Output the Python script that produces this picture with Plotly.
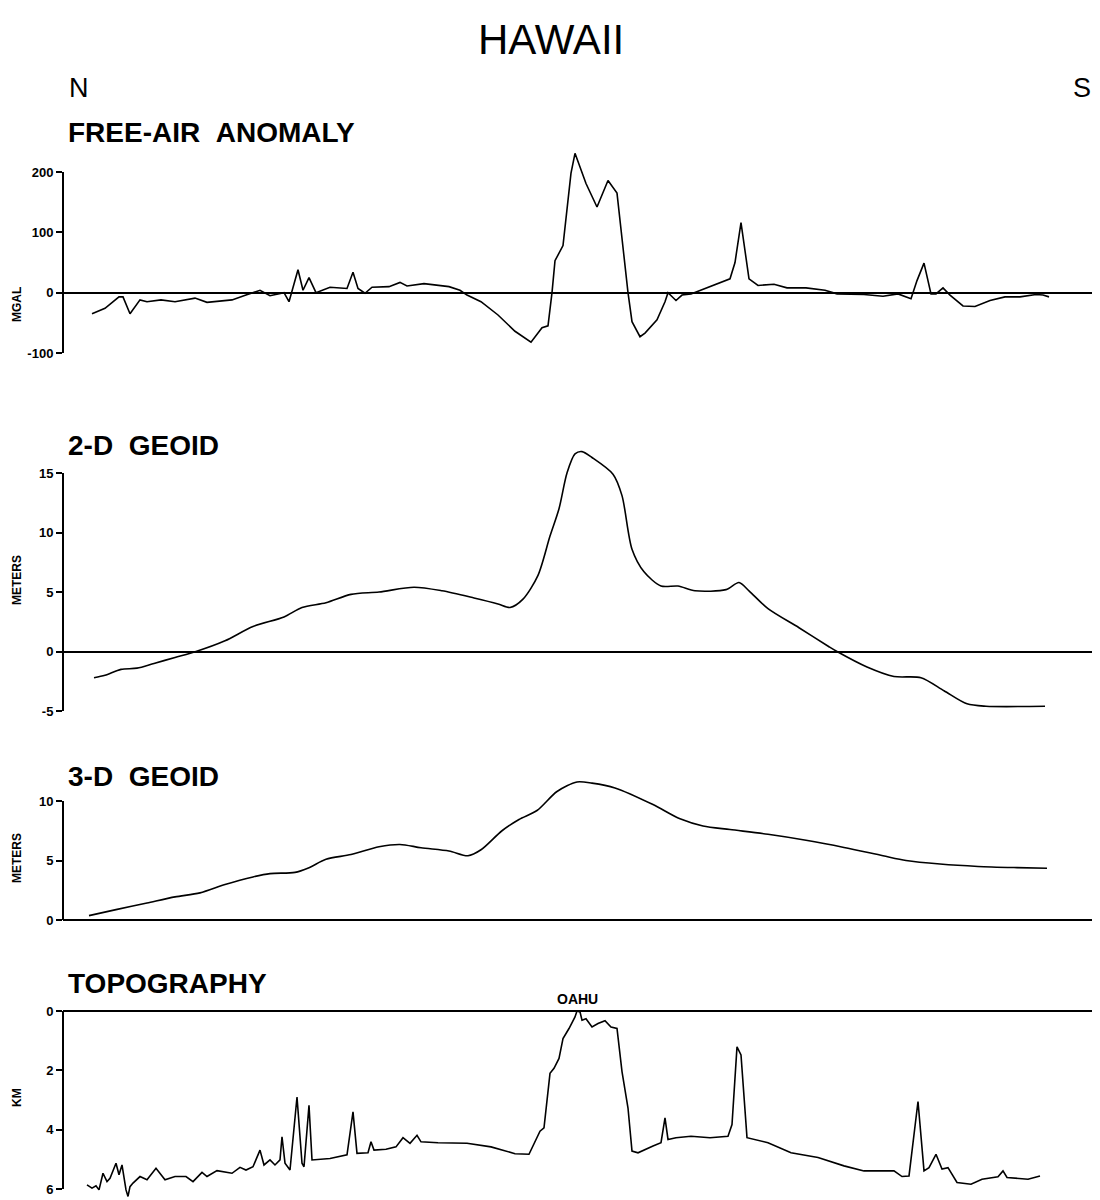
import plotly.graph_objects as go

# ---------------- data (distance along profile, N -> S, arbitrary units) ----------------
fa_dist = [29, 42, 56, 60, 67, 77, 84, 98, 112, 132, 144, 169, 183, 197, 207, 221, 226, 235, 240, 246,
           253, 267, 284, 290, 295, 302, 309, 326, 337, 344, 361, 386, 397, 404, 418, 435, 452, 468, 479, 485,
           489, 492, 500, 508, 512, 523, 534, 545, 554, 559, 565, 569, 577, 582, 594, 602, 605, 613, 619, 628,
           636, 647, 667, 672, 678, 686, 695, 711, 724, 743, 762, 774, 801, 820, 835, 848, 854, 861, 868, 873,
           880, 887, 900, 912, 927, 942, 957, 973, 980, 986]
fa_mgal = [-35, -26, -7, -7, -35, -12, -15, -12, -15, -9, -16, -12, -4, 4, -5, 0, -15, 38, 4, 25,
           0, 9, 7, 34, 7, -1, 9, 10, 17, 11, 15, 10, 4, -4, -15, -37, -64, -82, -58, -55,
           0, 53, 78, 198, 231, 181, 142, 186, 165, 89, 0, -48, -73, -67, -45, -15, 0, -13, -4, -2,
           3, 11, 23, 50, 116, 23, 12, 14, 8, 8, 4, -2, -3, -6, -2, -10, 20, 49, -2, -2,
           8, -4, -22, -23, -13, -7, -7, -3, -4, -7]

g2_dist = [31, 42, 58, 74, 91, 112, 133, 162, 190, 221, 239, 263, 288, 316, 351, 379, 411, 435, 447, 460,
           475, 487, 496, 504, 512, 519, 529, 550, 559, 569, 581, 598, 615, 632, 663, 676, 686, 705, 736, 766,
           774, 804, 831, 858, 881, 904, 923, 982]
g2_m = [-2.2, -2.0, -1.5, -1.4, -1.0, -0.5, 0.0, 0.9, 2.1, 2.9, 3.7, 4.1, 4.8, 5.0, 5.4, 5.1, 4.5, 4.0, 3.7, 4.4,
        6.4, 9.7, 12.0, 15.0, 16.6, 16.8, 16.3, 14.9, 13.1, 8.6, 6.7, 5.5, 5.5, 5.1, 5.2, 5.8, 5.1, 3.6, 2.0, 0.4,
        0.0, -1.3, -2.1, -2.2, -3.3, -4.4, -4.6, -4.6]

g3_dist = [26, 53, 84, 112, 137, 162, 190, 207, 232, 246, 263, 288, 316, 337, 358, 386, 405, 418, 439, 456,
           474, 494, 514, 529, 552, 590, 617, 640, 667, 705, 743, 781, 820, 843, 877, 915, 954, 984]
g3_m = [0.37, 0.87, 1.43, 1.94, 2.28, 2.98, 3.62, 3.9, 4.0, 4.4, 5.1, 5.5, 6.15, 6.35, 6.07, 5.8, 5.4, 5.9, 7.5, 8.45,
        9.2, 10.8, 11.6, 11.5, 11.1, 9.7, 8.5, 7.9, 7.6, 7.2, 6.7, 6.1, 5.4, 5.0, 4.7, 4.5, 4.4, 4.35]

topo_dist = [24, 29, 33, 36, 40, 44, 47, 53, 56, 59, 63, 65, 67, 70, 77, 84, 93, 102, 112, 123,
             130, 139, 144, 154, 169, 177, 183, 190, 197, 201, 207, 212, 217, 219, 222, 227, 234, 239, 241, 246,
             249, 267, 284, 290, 294, 305, 308, 311, 323, 333, 340, 347, 354, 358, 375, 404, 428, 437, 452, 466,
             471, 477, 481, 487, 491, 496, 500, 506, 512, 514, 517, 519, 523, 529, 535, 542, 548, 554, 559, 565,
             569, 575, 590, 598, 602, 605, 613, 628, 647, 665, 669, 674, 678, 684, 705, 728, 755, 781, 801, 831,
             839, 846, 855, 861, 866, 873, 879, 885, 894, 908, 919, 935, 940, 944, 965, 977]
topo_km = [5.86, 5.97, 5.89, 6.03, 5.47, 5.75, 5.64, 5.13, 5.52, 5.19, 6.03, 6.25, 5.92, 5.80, 5.58, 5.69, 5.30, 5.69, 5.58, 5.58,
           5.75, 5.44, 5.58, 5.38, 5.47, 5.27, 5.36, 5.25, 4.69, 5.19, 5.02, 5.19, 5.02, 4.24, 5.13, 5.36, 2.90, 5.13, 5.25, 3.18,
           5.02, 4.97, 4.85, 3.40, 4.80, 4.78, 4.41, 4.69, 4.66, 4.58, 4.27, 4.46, 4.19, 4.41, 4.44, 4.46, 4.58, 4.67, 4.81, 4.83,
           4.50, 4.05, 3.94, 2.10, 1.93, 1.60, 0.93, 0.59, 0.20, 0.00, 0.03, 0.31, 0.26, 0.54, 0.42, 0.33, 0.54, 0.59, 2.04, 3.27,
           4.72, 4.78, 4.55, 4.44, 3.60, 4.33, 4.27, 4.22, 4.27, 4.22, 3.83, 1.21, 1.48, 4.27, 4.44, 4.78, 4.94, 5.22, 5.39, 5.39,
           5.58, 5.56, 3.05, 5.39, 5.28, 4.83, 5.33, 5.28, 5.78, 5.84, 5.67, 5.59, 5.39, 5.61, 5.67, 5.56]

fa_ticks = [-100, 0, 100, 200]
g2_ticks = [-5, 0, 5, 10, 15]
g3_ticks = [0, 5, 10]
topo_ticks = [0, 2, 4, 6]

assert len(fa_dist) == len(fa_mgal)
assert len(g2_dist) == len(g2_m)
assert len(g3_dist) == len(g3_m)
assert len(topo_dist) == len(topo_km)

# ---------------- layout helpers ----------------
OFF = 8                      # default page body margin
W, H = 1100 - OFF, 1200 - OFF
X0_PX, X1_PX = 63, 1097
FONT = "Liberation Sans, Arial, sans-serif"


def pxx(x):
    return (x - OFF) / W


def pxy(y):
    return 1 - (y - OFF) / H


def domain_for(va, ya, vb, yb, r0, r1):
    """pixel rows of two ticks -> paper domain covering range [r0, r1]"""
    def px(v):
        return ya + (v - va) * (yb - ya) / (vb - va)
    p0, p1 = px(r0), px(r1)
    top, bot = min(p0, p1), max(p0, p1)
    return [pxy(bot), pxy(top)]


panels = [
    # (dist, vals, ticks, tick_a, tick_b, range, reversed, spline)
    (fa_dist, fa_mgal, fa_ticks, (200, 172), (-100, 353), [-100, 240], False, False),
    (g2_dist, g2_m, g2_ticks, (15, 473), (-5, 711), [-5, 17.6], False, True),
    (g3_dist, g3_m, g3_ticks, (10, 801), (0, 920), [-0.25, 12.2], False, True),
    (topo_dist, topo_km, topo_ticks, (0, 1011), (6, 1189), [-0.25, 6.35], True, False),
]

fig = go.Figure()
layout = dict(
    width=W, height=H, autosize=False,
    margin=dict(l=0, r=0, t=0, b=0),
    paper_bgcolor="white", plot_bgcolor="white",
    showlegend=False,
    font=dict(family=FONT, color="black"),
)
shapes = []
for i, (dx, vy, ticks, ta, tb, rng, rev, spl) in enumerate(panels, start=1):
    xa = "x" if i == 1 else f"x{i}"
    ya = "y" if i == 1 else f"y{i}"
    fig.add_trace(go.Scatter(
        x=dx, y=vy, mode="lines", xaxis=xa, yaxis=ya,
        line=dict(color="black", width=1.6, shape="spline" if spl else "linear", smoothing=0.8),
        hoverinfo="x+y"))
    dom = domain_for(ta[0], ta[1], tb[0], tb[1], rng[0], rng[1])
    layout["xaxis" if i == 1 else f"xaxis{i}"] = dict(
        domain=[pxx(X0_PX), min(1.0, pxx(X1_PX))], range=[0, X1_PX - X0_PX], visible=False,
        anchor=ya)
    layout["yaxis" if i == 1 else f"yaxis{i}"] = dict(
        domain=dom, anchor=xa,
        range=[rng[1], rng[0]] if rev else rng,
        showgrid=False, showline=False,
        zeroline=True, zerolinecolor="black", zerolinewidth=2,
        ticks="outside", ticklen=6, tickwidth=2, tickcolor="black",
        tickvals=ticks, ticktext=[str(t) for t in ticks],
        tickfont=dict(family=FONT, size=13, color="black", weight="bold"),
        automargin=False)
    shapes.append(dict(type="line", xref="paper", yref=ya,
                       x0=pxx(X0_PX), x1=pxx(X0_PX), y0=min(ticks), y1=max(ticks),
                       line=dict(color="black", width=2)))

layout["shapes"] = shapes


def ann(text, xpx, ypx, size, weight="normal", xanchor="left", angle=0):
    return dict(text=text, x=pxx(xpx), y=pxy(ypx), xref="paper", yref="paper",
                xanchor=xanchor, yanchor="middle", showarrow=False, textangle=angle,
                font=dict(family=FONT, size=size, color="black", weight=weight))


annotations = [
    ann("HAWAII", 551, 40, 42, xanchor="center"),
    ann("N", 79, 88, 27, xanchor="center"),
    ann("S", 1082, 88, 27, xanchor="center"),
    ann("FREE-AIR\u00a0\u00a0ANOMALY", 66, 132, 28, weight="bold"),
    ann("2-D\u00a0\u00a0GEOID", 66, 445, 28, weight="bold"),
    ann("3-D\u00a0\u00a0GEOID", 66, 776, 28, weight="bold"),
    ann("TOPOGRAPHY", 66, 983, 28, weight="bold"),
    ann("MGAL", 17, 305, 12, weight="bold", xanchor="center", angle=-90),
    ann("METERS", 17, 580, 12, weight="bold", xanchor="center", angle=-90),
    ann("METERS", 17, 858, 12, weight="bold", xanchor="center", angle=-90),
    ann("KM", 17, 1098, 12, weight="bold", xanchor="center", angle=-90),
]
# OAHU label at the shallowest point of the topography profile
i_top = topo_km.index(min(topo_km))
annotations.append(dict(text="OAHU", x=topo_dist[i_top], y=0, xref="x4", yref="y4",
                        xanchor="center", yanchor="bottom", yshift=2, showarrow=False,
                        font=dict(family=FONT, size=14, color="black", weight="bold")))
layout["annotations"] = annotations

fig.update_layout(**layout)
fig.write_html("out.html")
